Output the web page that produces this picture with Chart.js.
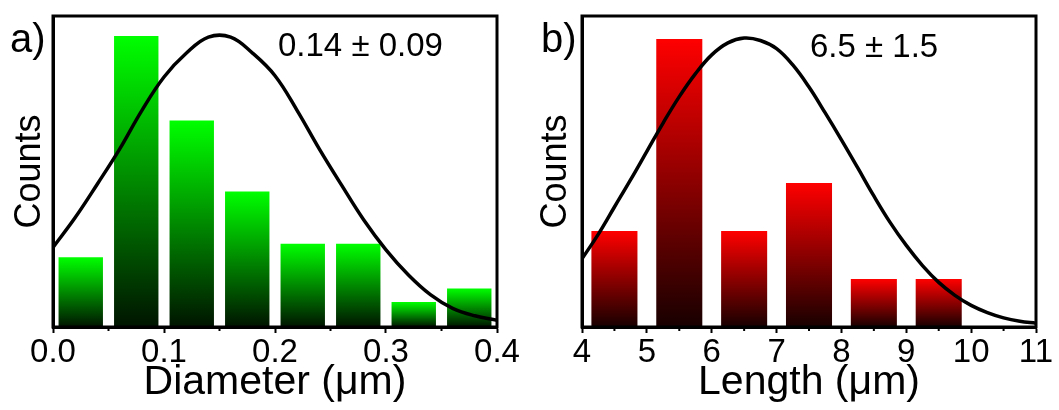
<!DOCTYPE html>
<html>
<head>
<meta charset="utf-8">
<script src="https://cdn.jsdelivr.net/npm/chart.js@4.4.1/dist/chart.umd.min.js"></script>
<style>
  body { margin: 0; background: #fff; }
  #wrap { position: relative; width: 1059px; height: 410px; font-family: "Liberation Sans", Arial, sans-serif; }
  .panel { position: absolute; top: 0; height: 410px; }
  .panel canvas { position: absolute; left: 0; top: 0; }
  .tag { position: absolute; font-size: 40px; line-height: 1; color: #000; }
  .note { position: absolute; font-size: 33px; line-height: 1; color: #000; white-space: nowrap; }
</style>
</head>
<body>
<div id="wrap">
  <div class="panel" style="left:0;width:530px">
    <canvas id="chartA" width="530" height="410"></canvas>
    <div class="tag" style="left:10px;top:18px">a)</div>
    <div class="note" style="left:278px;top:28px">0.14 ± 0.09</div>
  </div>
  <div class="panel" style="left:530px;width:529px">
    <canvas id="chartB" width="529" height="410"></canvas>
    <div class="tag" style="left:11px;top:18px">b)</div>
    <div class="note" style="left:280px;top:29px">6.5 ± 1.5</div>
  </div>
</div>
<script>
// panel a - diameter histogram
const diameterBins = [0.025, 0.075, 0.125, 0.175, 0.225, 0.275, 0.325, 0.375];
const diameterCounts = [5.6, 23.4, 16.6, 10.9, 6.7, 6.7, 2.0, 3.1];
const diameterFitX = [0, 0.02, 0.04, 0.06, 0.08, 0.1, 0.12, 0.14, 0.16, 0.18, 0.2, 0.22, 0.24, 0.26, 0.28, 0.3, 0.32, 0.34, 0.36, 0.38, 0.4];
const diameterFitY = [6.4, 8.8, 11.5, 14.3, 17.4, 20.1, 22.0, 23.3, 23.3, 22.0, 20.2, 17.4, 14.3, 11.4, 8.6, 6.2, 4.2, 2.6, 1.5, 0.9, 0.55];
const diameterMinorTicks = [0.05, 0.15, 0.25, 0.35];

// panel b - length histogram
const lengthBins = [4.5, 5.5, 6.5, 7.5, 8.5, 9.5];
const lengthCounts = [2, 6, 2, 3, 1, 1];
const lengthFitX = [4, 4.25, 4.5, 4.75, 5, 5.25, 5.5, 5.75, 6, 6.25, 6.5, 6.75, 7, 7.25, 7.5, 7.75, 8, 8.25, 8.5, 8.75, 9, 9.25, 9.5, 9.75, 10, 10.25, 10.5, 10.75, 11];
const lengthFitY = [1.42, 1.93, 2.5, 3.07, 3.66, 4.25, 4.80, 5.28, 5.67, 5.92, 6.02, 5.97, 5.80, 5.46, 5.0, 4.46, 3.9, 3.32, 2.73, 2.18, 1.70, 1.28, 0.93, 0.66, 0.45, 0.30, 0.19, 0.12, 0.08];
const lengthMinorTicks = [4.5, 5.5, 6.5, 7.5, 8.5, 9.5, 10.5];

const FONT = "'Liberation Sans', Arial, sans-serif";

const toPoints = function (xs, ys) {
  return xs.map((x, i) => ({ x: x, y: ys[i] }));
};

// each bar fades from bright at its top to near black at the axis
const barGradient = function (top, bottom) {
  return function (ctx) {
    const chart = ctx.chart;
    if (!chart.chartArea || ctx.type !== "data") return top;
    const ys = chart.scales.y;
    const y0 = ys.getPixelForValue(ctx.raw.y);
    const y1 = ys.getPixelForValue(0);
    const g = chart.ctx.createLinearGradient(0, y0, 0, y1);
    g.addColorStop(0, top);
    g.addColorStop(1, bottom);
    return g;
  };
};

const framePlugin = {
  id: "frame",
  afterDatasetsDraw(chart, args, opts) {
    const a = chart.chartArea;
    const c = chart.ctx;
    const xs = chart.scales.x;
    c.save();
    c.strokeStyle = "#000";
    c.lineWidth = 3;
    c.strokeRect(a.left, a.top, a.right - a.left, a.bottom - a.top);
    c.lineWidth = 2;
    (opts.minor || []).forEach((v) => {
      const px = xs.getPixelForValue(v);
      c.beginPath();
      c.moveTo(px, a.bottom);
      c.lineTo(px, a.bottom + 4);
      c.stroke();
    });
    c.restore();
  },
};

const makePanel = function (id, p) {
  return new Chart(document.getElementById(id), {
    type: "bar",
    data: {
      datasets: [
        {
          type: "line",
          data: toPoints(p.fitX, p.fitY),
          borderColor: "#000",
          borderWidth: 3.5,
          pointRadius: 0,
          tension: 0.4,
          fill: false,
        },
        {
          type: "bar",
          data: toPoints(p.bins, p.counts),
          backgroundColor: barGradient(p.top, p.bottom),
          borderWidth: 0,
          barPercentage: p.barPct,
          categoryPercentage: 1,
        },
      ],
    },
    options: {
      responsive: false,
      animation: false,
      layout: { padding: { top: 16, right: p.padRight, left: 0, bottom: 0 } },
      plugins: {
        legend: { display: false },
        tooltip: { enabled: false },
        frame: { minor: p.minor },
      },
      scales: {
        x: {
          type: "linear",
          min: p.xMin,
          max: p.xMax,
          offset: false,
          grid: { offset: false, drawOnChartArea: false, tickLength: 6, tickWidth: 2, color: "#000" },
          border: { display: true, width: 3, color: "#000" },
          ticks: {
            stepSize: p.step,
            autoSkip: false,
            maxRotation: 0,
            padding: 0,
            color: "#000",
            font: { family: FONT, size: 33 },
            callback: (v) => v.toFixed(p.decimals),
          },
          title: {
            display: true,
            text: p.xTitle,
            color: "#000",
            font: { family: FONT, size: 41 },
            padding: { top: 0, bottom: 3 },
          },
          afterFit: (s) => { s.height = 83; },
        },
        y: {
          min: 0,
          max: p.yMax,
          grid: { display: false, drawTicks: false },
          border: { display: true, width: 3, color: "#000" },
          ticks: { display: false },
          title: {
            display: true,
            text: "Counts",
            color: "#000",
            font: { family: FONT, size: 36 },
            padding: { top: p.countsPad, bottom: 0 },
          },
          afterFit: (s) => { s.width = p.yWidth; },
        },
      },
    },
    plugins: [framePlugin],
  });
};

makePanel("chartA", {
  bins: diameterBins, counts: diameterCounts,
  fitX: diameterFitX, fitY: diameterFitY, minor: diameterMinorTicks,
  top: "#00ff00", bottom: "#001400",
  barPct: 0.8, xMin: 0, xMax: 0.4, step: 0.1, decimals: 1, yMax: 25,
  xTitle: "Diameter (μm)", padRight: 33, yWidth: 53, countsPad: 8,
});

makePanel("chartB", {
  bins: lengthBins, counts: lengthCounts,
  fitX: lengthFitX, fitY: lengthFitY, minor: lengthMinorTicks,
  top: "#ff0000", bottom: "#180000",
  barPct: 0.71, xMin: 4, xMax: 11, step: 1, decimals: 0, yMax: 6.48,
  xTitle: "Length (μm)", padRight: 23, yWidth: 52, countsPad: 4,
});
</script>
</body>
</html>
